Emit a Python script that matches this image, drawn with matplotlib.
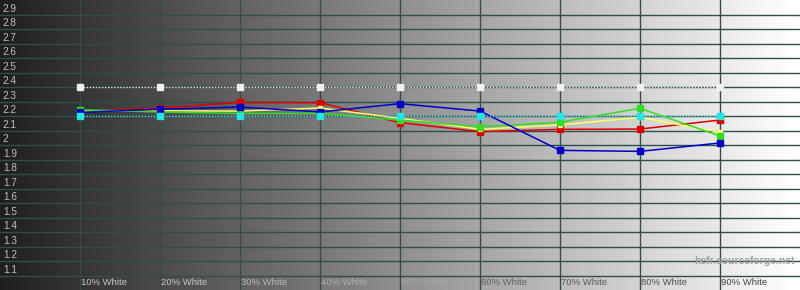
import numpy as np
import matplotlib
matplotlib.use("Agg")
import matplotlib.pyplot as plt

# ── Datos (gamma por nivel de gris) ──────────────────────────────────────────
niveles = [10, 20, 30, 40, 50, 60, 70, 80, 90]
etiquetas_x = [f"{n}% White" for n in niveles]
gamma_ref = [2.40] * 9
gamma_obj = [2.20] * 9
gamma_r = [2.23, 2.255, 2.294, 2.292, 2.154, 2.092, 2.108, 2.110, 2.172]
gamma_g = [2.243, 2.228, 2.218, 2.218, 2.172, 2.126, 2.157, 2.253, 2.062]
gamma_b = [2.225, 2.246, 2.262, 2.228, 2.285, 2.234, 1.963, 1.956, 2.014]
gamma_y = [2.234, 2.236, 2.234, 2.255, 2.184, 2.108, 2.138, 2.191, 2.088]
ticks_y = [round(1.1 + 0.1 * i, 1) for i in range(19)]

GRID = "#2f4f4f"
FUENTE = "Liberation Sans"

fig = plt.figure(figsize=(8, 2.9), dpi=100)
ax = fig.add_axes([0, 0, 1, 1])
ax.set_xlim(0, 100)
ax.set_ylim(1.0, 3.0)
ax.axis("off")

# fondo degradado negro -> blanco
grad = np.linspace(0.12, 1.0, 256).reshape(1, -1)
ax.imshow(grad, cmap="gray", vmin=0, vmax=1, extent=[0, 100, 1.0, 3.0],
          aspect="auto", zorder=0)

# rejilla
for n in niveles:
    ax.axvline(n, color=GRID, lw=1, zorder=1)
for t in ticks_y:
    ax.axhline(t, color=GRID, lw=1, zorder=1)

# etiquetas eje y (encima de la línea)
for t in ticks_y:
    lab = "2" if t == 2.0 else f"{t:.1f}"
    ax.annotate(lab, (0, t), xytext=(2, 2), textcoords="offset points",
                ha="left", va="baseline", fontsize=7.2, color="#c0c0c0",
                family=FUENTE, zorder=5)

# etiquetas eje x
col_x = ["#c8c8c8", "#c8c8c8", "#b8b8b8", "#b0b0b0", "#a6a6a6",
         "#606060", "#585858", "#505050", "#404040"]
for n, lab, c in zip(niveles, etiquetas_x, col_x):
    ax.annotate(lab, (n, 1.0), xytext=(1, 2.5), textcoords="offset points",
                ha="left", va="bottom", fontsize=6.8, color=c,
                family=FUENTE, zorder=5)

# marca de agua
ax.text(99.4, 1.2, "hcfr.sourceforge.net", ha="right", va="center",
        fontsize=7.5, color="#a0a0a0", family=FUENTE, fontweight="bold",
        zorder=2)

# series
ax.plot(niveles, gamma_ref, ls=(0, (1, 1.2)), lw=1, color="#e6e6e6",
        marker="s", ms=4, mfc="#f0f0f0", mec="#f0f0f0", zorder=3)
ax.plot(niveles, gamma_r, color="#e00000", lw=1.1, marker="s", ms=4, zorder=4)
ax.plot(niveles, gamma_y, color="#ffff66", lw=1.1, marker="s", ms=2.5, zorder=4)
ax.plot(niveles, gamma_g, color="#33dd22", lw=1.1, marker="s", ms=4, zorder=4)
ax.plot(niveles, gamma_b, color="#0000c8", lw=1.1, marker="s", ms=4, zorder=4)
ax.plot(niveles, gamma_obj, ls=(0, (1, 1.2)), lw=1, color="#40e0e0",
        marker="s", ms=4, mfc="#22e6e6", mec="#22e6e6", zorder=4.5)

fig.savefig("out.png", dpi=100)
